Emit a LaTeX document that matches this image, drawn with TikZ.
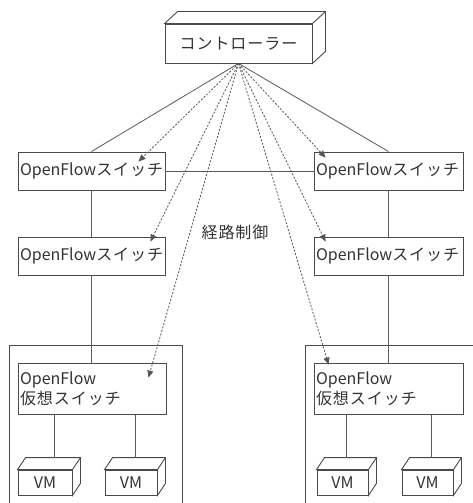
\documentclass[tikz,border=0pt]{standalone}
\usepackage{fontspec}
\setmainfont{Noto Sans CJK JP}
\newfontfamily\jp{Noto Sans CJK JP}[LetterSpace=6]
\usetikzlibrary{arrows.meta}
\definecolor{linegray}{HTML}{5A5A5A}
\definecolor{boxgray}{HTML}{4A4A4A}
\definecolor{textgray}{HTML}{333333}
\definecolor{dashgray}{HTML}{555555}
% top and right faces of a box drawn in oblique view
\newcommand\boxfaces[3]{%
  \draw[frame, fill=white] (#1.north west) -- ++(#2,#3) -- ([shift={(#2,#3)}]#1.north east)
    -- ([shift={(#2,#3)}]#1.south east) -- (#1.south east) -- (#1.north east) -- cycle;
  \draw[frame] (#1.north east) -- ([shift={(#2,#3)}]#1.north east);}
\begin{document}
\begin{tikzpicture}[x=1pt, y=-1pt,
  wire/.style={draw=linegray, line width=0.8pt},
  frame/.style={draw=boxgray, line width=0.9pt},
  label/.style={font=\fontsize{16}{20}\selectfont, text=textgray},
  swbox/.style={frame, fill=white, rectangle, label, minimum height=38pt,
    text width=#1, align=left, inner xsep=2pt, inner ysep=0pt},
  vsbox/.style={swbox=#1, minimum height=51pt},
  ctrlbox/.style={frame, fill=white, rectangle, label, minimum width=147pt,
    minimum height=39pt, inner sep=0pt},
  vmbox/.style={frame, fill=white, rectangle, label, minimum width=#1,
    minimum height=25pt, inner sep=0pt},
  ctrlarrow/.style={draw=dashgray, line width=0.8pt, dash pattern=on 2pt off 1.6pt,
    -{Triangle[length=7pt,width=6pt]}}
]
\useasboundingbox (0,0) rectangle (472,503);
\fill[white] (0,0) rectangle (472,503);

% hosts running the virtual switches
\draw[frame] (9,503) |- (182,345) -- (182,503);
\draw[frame] (305,503) |- (480,345);

% controller
\node[ctrlbox] (ctrl) at (238.5,43.5) {{\jp コントローラー}};
\boxfaces{ctrl}{13}{-12}

% physical switches
\node[swbox=143pt] (sw1L) at (91.5,171) {OpenFlow{\jp スイッチ}};
\node[swbox=143pt] (sw2L) at (91.5,256) {OpenFlow{\jp スイッチ}};
\node[swbox=145pt] (sw1R) at (388.5,171) {OpenFlow{\jp スイッチ}};
\node[swbox=145pt] (sw2R) at (388.5,256) {OpenFlow{\jp スイッチ}};

% virtual switches
\node[vsbox=144pt] (vsL) at (92,388.5) {OpenFlow\\{\jp 仮想スイッチ}};
\node[vsbox=145pt] (vsR) at (388.5,388.5) {OpenFlow\\{\jp 仮想スイッチ}};

% virtual machines
\node[vmbox=54pt] (vm1) at (45,482.5) {VM};
\node[vmbox=52pt] (vm2) at (131,482.5) {VM};
\node[vmbox=51pt] (vm3) at (342.5,482.5) {VM};
\node[vmbox=51pt] (vm4) at (427.5,482.5) {VM};
\boxfaces{vm1}{8}{-12}
\boxfaces{vm2}{8}{-12}
\boxfaces{vm3}{8}{-12}
\boxfaces{vm4}{8}{-12}

% physical links
\draw[wire] (ctrl.south) -- (sw1L.north);
\draw[wire] (ctrl.south) -- (sw1R.north);
\draw[wire] (sw1L.east) -- (sw1R.west);
\draw[wire] (sw1L.south) -- (sw2L.north);
\draw[wire] (sw2L.south) -- (sw2L.south |- vsL.north);
\draw[wire] (sw1R.south) -- (sw2R.north);
\draw[wire] (sw2R.south) -- (sw2R.south |- vsR.north);

% links from virtual switches to the VMs
\coordinate (v1) at ([shift={(9,-12)}]vm1.north);
\coordinate (v2) at ([shift={(4,-12)}]vm2.north);
\coordinate (v3) at ([shift={(4,-12)}]vm3.north);
\coordinate (v4) at ([shift={(4,-12)}]vm4.north);
\draw[wire] (v1 |- vsL.south) -- (v1);
\draw[wire] (v2 |- vsL.south) -- (v2);
\draw[wire] (v3 |- vsR.south) -- (v3);
\draw[wire] (v4 |- vsR.south) -- (v4);

% route control from the controller
\coordinate (t1) at ([shift={(-27,10)}]sw1L.north east);
\coordinate (t2) at ([shift={(-15,5)}]sw2L.north east);
\coordinate (t3) at ([shift={(-18,15)}]vsL.north east);
\coordinate (t4) at ([shift={(12,6)}]sw1R.north west);
\coordinate (t5) at ([shift={(12,5)}]sw2R.north west);
\coordinate (t6) at ([shift={(15,2)}]vsR.north west);
\foreach \t in {t1,t2,t3,t4,t5,t6}
  \draw[ctrlarrow] (ctrl.south) -- (\t);

\node[label, inner sep=0pt] (route) at (235,232) {{\jp 経路制御}};
\end{tikzpicture}
\end{document}
